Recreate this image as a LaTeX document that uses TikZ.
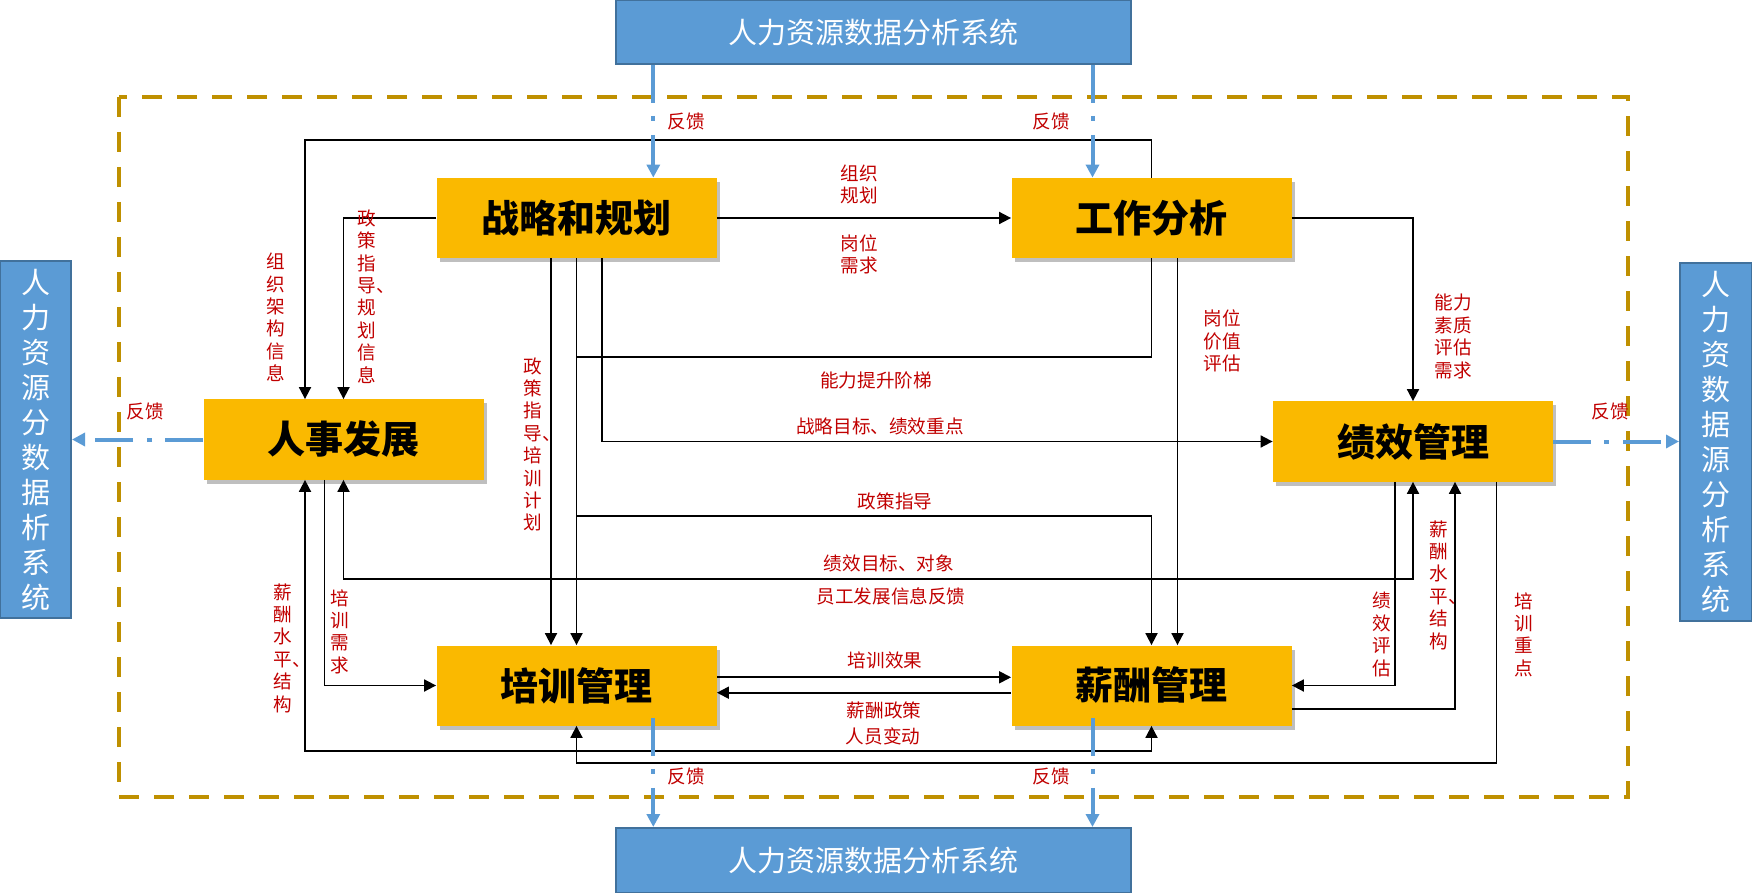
\documentclass[tikz,border=0pt]{standalone}
\usepackage{fontspec}
\setmainfont{Noto Sans CJK SC}
\usetikzlibrary{arrows.meta,calc,shadows}
\definecolor{boxor}{RGB}{250,185,0}
\definecolor{bluef}{RGB}{91,155,213}
\definecolor{blued}{RGB}{65,113,156}
\definecolor{goldd}{RGB}{191,144,0}
\definecolor{labred}{RGB}{192,0,0}
\begin{document}
\begin{tikzpicture}[x=0.5pt,y=-0.5pt,
  obox/.style={fill=boxor, minimum width=140pt, minimum height=40pt, inner sep=0pt,
    font=\fontsize{19pt}{22pt}\selectfont\bfseries,
    drop shadow={shadow xshift=1.5pt, shadow yshift=-2pt, fill=black, opacity=0.25}},
  bbox/.style={fill=bluef, draw=blued, line width=1pt, inner sep=0pt, text=white,
    align=center, font=\fontsize{14.5pt}{17.5pt}\selectfont},
  lab/.style={text=labred, font=\fontsize{9.3pt}{11.2pt}\selectfont, align=center, inner sep=0pt},
  conn/.style={line width=0.9pt, -{Triangle[length=6pt,width=6pt]}},
  conn2/.style={line width=0.9pt, {Triangle[length=6pt,width=6pt]}-{Triangle[length=6pt,width=6pt]}},
  plainline/.style={line width=0.9pt},
  fb/.style={line width=2pt, draw=bluef, dash pattern=on 19pt off 6.5pt on 2.5pt off 7pt,
    -{Triangle[length=6.5pt,width=6.5pt]}},
  border/.style={draw=goldd, line width=2pt, dash pattern=on 10pt off 7.5pt}
]
\useasboundingbox (0,0) rectangle (1752,893);

% dashed frame
\draw[border] (119,97) rectangle (1628,797);

% blue system boxes
\node[bbox, minimum width=257.5pt, minimum height=32pt] (topb) at (873.5,32) {人力资源数据分析系统};
\node[bbox, minimum width=257.5pt, minimum height=32.5pt] (botb) at (873.5,860.5) {人力资源数据分析系统};
\node[bbox, minimum width=35.5pt, minimum height=178.5pt] (leftb) at (35.5,439.5) {人\\力\\资\\源\\分\\数\\据\\析\\系\\统};
\node[bbox, minimum width=36pt, minimum height=179pt] (rightb) at (1716,442) {人\\力\\资\\数\\据\\源\\分\\析\\系\\统};

% orange boxes
\node[obox] (zl) at (576.5,218) {战略和规划};
\node[obox] (gz) at (1151.5,218) {工作分析};
\node[obox] (rs) at (343.5,439.5) {人事发展};
\node[obox] (jx) at (1413,441.5) {绩效管理};
\node[obox] (px) at (576.5,685.5) {培训管理};
\node[obox] (xc) at (1151.5,685.5) {薪酬管理};

% connectors
\coordinate (j1) at (576.5,357);
\coordinate (j2) at (576.5,515.7);
\draw[conn] (gz.north) |- (305,140) -- ($(rs.north)+(-38.5,0)$);
\draw[conn] (zl.west) -| (rs.north);
\draw[conn] (zl.east) -- (gz.west);
\draw[conn] ($(zl.south)+(-25.5,0)$) -- ($(px.north)+(-25.5,0)$);
\draw[conn] (zl.south) -- (px.north);
\draw[plainline] (gz.south) |- (j1);
\draw[conn] (j2) -| (xc.north);
\draw[conn] ($(zl.south)+(25.5,0)$) |- (jx.west);
\draw[conn] ($(gz.south)+(26,0)$) -- ($(xc.north)+(26,0)$);
\draw[conn] (gz.east) -| (jx.north);
\draw[conn2] (rs.south) |- (1413,579.3) -- (jx.south);
\draw[conn] ($(rs.south)+(-19,0)$) |- (px.west);
\draw[conn2] ($(rs.south)+(-38.5,0)$) |- (1151.5,751) -- (xc.south);
\draw[conn] ($(px.east)+(0,-8.2)$) -- ($(xc.west)+(0,-8.2)$);
\draw[conn] ($(xc.west)+(0,7.2)$) -- ($(px.east)+(0,7.2)$);
\draw[conn] ($(jx.south)+(-18,0)$) |- (xc.east);
\draw[conn] ($(xc.east)+(0,23.5)$) -| ($(jx.south)+(42,0)$);
\draw[conn] ($(jx.south)+(83.5,0)$) |- (576.5,763.3) -- (px.south);

% labels
\node[lab] (l1) at (275.5,317.5) {组\\织\\架\\构\\信\\息};
\node[lab] (l2) at (367,296.5) {政\\策\\指\\导\rlap{、}\\规\\划\\信\\息};
\node[lab] (l3) at (859.5,184.5) {组织\\规划};
\node[lab] (l4) at (859.5,254.5) {岗位\\需求};
\node[lab] (l5) at (533,444.5) {政\\策\\指\\导\rlap{、}\\培\\训\\计\\划};
\node[lab] (l6) at (876,380) {能力提升阶梯};
\node[lab] (l7) at (880,426) {战略目标、绩效重点};
\node[lab] (l8) at (895,501) {政策指导};
\node[lab] (l9) at (1222,341) {岗位\\价值\\评估};
\node[lab] (l10) at (1453.5,336.5) {能力\\素质\\评估\\需求};
\node[lab] (l11) at (889,563.3) {绩效目标、对象};
\node[lab] (l12) at (891,596.7) {员工发展信息反馈};
\node[lab] (l13) at (339.5,631.5) {培\\训\\需\\求};
\node[lab] (l14) at (283,648) {薪\\酬\\水\\平\rlap{、}\\结\\构};
\node[lab] (l15) at (885,660.7) {培训效果};
\node[lab] (l16) at (884,710) {薪酬政策};
\node[lab] (l17) at (883,736) {人员变动};
\node[lab] (l18) at (1381.5,634.5) {绩\\效\\评\\估};
\node[lab] (l19) at (1439,585) {薪\\酬\\水\\平\rlap{、}\\结\\构};
\node[lab] (l20) at (1523.5,634.5) {培\\训\\重\\点};

% feedback arrows
\coordinate (f1) at ($(zl.north)+(76.8,0)$);
\coordinate (f2) at ($(gz.north)+(-59,0)$);
\coordinate (f3) at ($(px.south)+(76.8,-8)$);
\coordinate (f4) at ($(xc.south)+(-59,-8)$);
\draw[fb] (f1 |- topb.south) -- (f1);
\draw[fb] (f2 |- topb.south) -- (f2);
\draw[fb] (f3) -- (f3 |- botb.north);
\draw[fb] (f4) -- (f4 |- botb.north);
\draw[fb] (rs.west) -- (rs.west -| leftb.east);
\draw[fb] (jx.east) -- (jx.east -| rightb.west);
\node[lab] (fb1) at (686,121.7) {反馈};
\node[lab] (fb2) at (1051.5,121.7) {反馈};
\node[lab] (fb3) at (686,776) {反馈};
\node[lab] (fb4) at (1051.5,776) {反馈};
\node[lab] (fb5) at (145.5,411.7) {反馈};
\node[lab] (fb6) at (1610.5,411.7) {反馈};
\end{tikzpicture}
\end{document}
